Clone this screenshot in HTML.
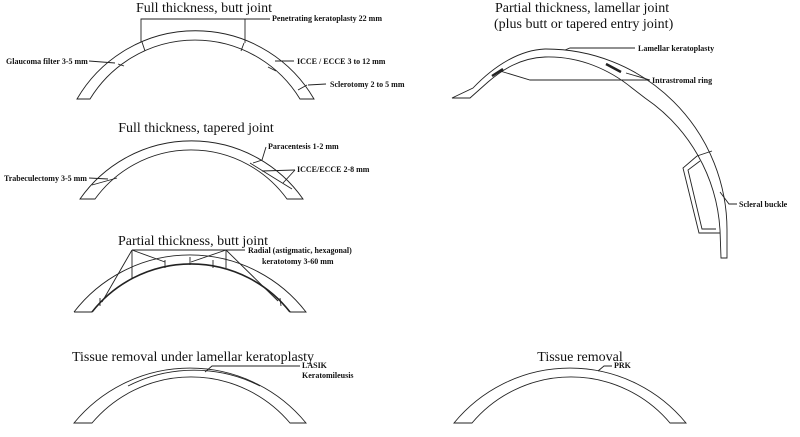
<!DOCTYPE html>
<html><head><meta charset="utf-8"><style>
body{margin:0;background:#fff}
svg{display:block}
text{font-family:"Liberation Serif",serif;fill:#111}
.t{font-size:14px}
.l{font-size:8px;font-weight:bold}
path,line,polyline{fill:none;stroke:#222;stroke-width:0.9}
</style></head><body>
<svg width="800" height="437" viewBox="0 0 800 437">
<!-- Arc 1 -->
<text class="t" x="204" y="12" text-anchor="middle">Full thickness, butt joint</text>
<path d="M77 99 A137 137 0 0 1 314 99 L300 99 A123 123 0 0 0 90 99 Z"/>
<line x1="142" y1="42" x2="145" y2="51"/><line x1="244" y1="43" x2="241" y2="51"/>
<polyline points="141,42 141,19 270,19"/><line x1="245" y1="43" x2="245" y2="19"/>
<text class="l" x="272" y="21">Penetrating keratoplasty  22 mm</text>
<text class="l" x="6" y="64">Glaucoma filter 3-5 mm</text>
<line x1="89" y1="61" x2="115" y2="63"/>
<line x1="118" y1="64" x2="124" y2="66"/>
<text class="l" x="297" y="64">ICCE / ECCE   3 to 12 mm</text>
<line x1="294" y1="61" x2="275" y2="61"/><line x1="268" y1="67" x2="276" y2="71"/>
<text class="l" x="330" y="87">Sclerotomy  2 to 5 mm</text>
<line x1="326" y1="84" x2="308" y2="85"/><line x1="298" y1="90" x2="307" y2="85"/>
<!-- Arc 2 -->
<text class="t" x="196" y="132" text-anchor="middle">Full thickness, tapered joint</text>
<path d="M80 199 A136 136 0 0 1 303 199 L287 199 A118.5 118.5 0 0 0 95 199 Z"/>
<line x1="92" y1="185" x2="117" y2="178"/><line x1="250" y1="163" x2="292" y2="189"/>
<text class="l" x="4" y="181">Trabeculectomy 3-5 mm</text>
<line x1="89" y1="178" x2="108" y2="179"/>
<text class="l" x="268" y="149">Paracentesis 1-2 mm</text>
<polyline points="266,147 262,160 253,163"/>
<text class="l" x="297" y="172">ICCE/ECCE 2-8 mm</text>
<line x1="295" y1="170" x2="262" y2="171"/><line x1="295" y1="170" x2="283" y2="183"/>
<!-- Arc 3 -->
<text class="t" x="193" y="245" text-anchor="middle">Partial thickness, butt joint</text>
<path d="M74 312 A146.5 146.5 0 0 1 306 312 L290 312 L92 312 Z" style="stroke:none"/>
<path d="M74 312 A146.5 146.5 0 0 1 306 312 L290 312 M92 312 L74 312"/>
<path d="M92 312 A126 126 0 0 1 290 312" style="stroke-width:1.6"/>
<line x1="132" y1="250" x2="102" y2="302"/><line x1="132" y1="250" x2="132" y2="278"/>
<line x1="132" y1="250" x2="165" y2="262"/>
<line x1="226" y1="250" x2="278" y2="301"/><line x1="226" y1="250" x2="226" y2="268"/>
<line x1="226" y1="250" x2="191" y2="262"/>
<line x1="132" y1="250" x2="245" y2="250"/>
<line x1="190" y1="257" x2="190" y2="265"/><line x1="165" y1="260" x2="165" y2="268"/><line x1="213" y1="260" x2="213" y2="268"/>
<line x1="100" y1="298" x2="100" y2="306"/><line x1="280" y1="298" x2="281" y2="306"/>
<text class="l" x="248" y="253">Radial (astigmatic, hexagonal)</text>
<text class="l" x="262" y="264">keratotomy 3-60 mm</text>
<!-- Arc 4 -->
<text class="t" x="193" y="361" text-anchor="middle">Tissue removal under lamellar keratoplasty</text>
<path d="M74 423 A150 150 0 0 1 306 423 L290 423 A129.5 129.5 0 0 0 92 423 Z"/>
<path d="M128 386 A146 146 0 0 1 260 386"/>
<polyline points="205,372 212,366 300,366"/>
<text class="l" x="302" y="368">LASIK</text>
<text class="l" x="302" y="378">Keratomileusis</text>
<!-- Arc 5 -->
<text class="t" x="580" y="361" text-anchor="middle">Tissue removal</text>
<path d="M454 423 A150 150 0 0 1 686 423 L670 423 A129.5 129.5 0 0 0 472 423 Z"/>
<polyline points="598,371 604,366 612,366"/>
<text class="l" x="614" y="368">PRK</text>
<!-- Big right arc -->
<text class="t" x="495" y="12">Partial thickness, lamellar joint</text>
<text class="t" x="494" y="28">(plus butt or tapered entry joint)</text>
<path d="M452 98 L473 88 C495 65 520 50 545 49 A181 181 0 0 1 727 230 L727 258 L721 258 L720 230 A172 172 0 0 0 645 98 L632 88 C610 70 580 56 545 57 C520 58 502 70 488 82 L470 98 Z"/>
<path d="M697 156 L683 168 L699 233 L720 233"/><path d="M700 161 L688 170 L702 229 L716 229"/>
<line x1="697" y1="156" x2="712" y2="151"/>
<path d="M492 76 L503 69" style="stroke-width:2.5"/><path d="M606 64 L621 72" style="stroke-width:2.5"/>
<polyline points="565,50 570,48 635,48"/>
<text class="l" x="638" y="51">Lamellar keratoplasty</text>
<polyline points="500,71 530,80 650,80"/><line x1="626" y1="73" x2="650" y2="80"/>
<text class="l" x="652" y="83">Intrastromal ring</text>
<polyline points="720,192 729,204 737,204"/>
<text class="l" x="739" y="207">Scleral buckle</text>
</svg>
</body></html>
